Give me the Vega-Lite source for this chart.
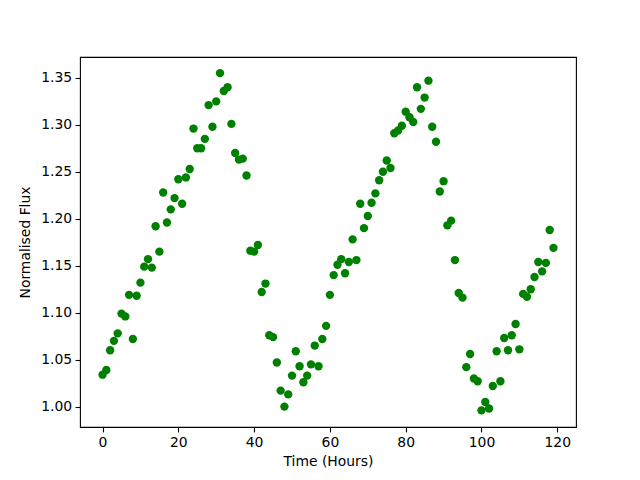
{
  "$schema": "https://vega.github.io/schema/vega-lite/v6.json",
  "autosize": "none",
  "width": 496,
  "height": 370,
  "padding": {"left": 80, "top": 57, "right": 64, "bottom": 53},
  "background": "white",
  "config": {
    "view": {"stroke": "black", "strokeWidth": 1.1},
    "font": "DejaVu Sans",
    "axis": {
      "grid": false,
      "domain": false,
      "tickColor": "black",
      "tickSize": 4.9,
      "tickWidth": 1.1,
      "labelColor": "black",
      "labelFont": "DejaVu Sans",
      "labelFontSize": 13.9,
      "labelPadding": 3.5,
      "titleColor": "black",
      "titleFont": "DejaVu Sans",
      "titleFontSize": 13.9,
      "titleFontWeight": "normal"
    }
  },
  "data": {
    "values": [
      {"t": 0, "flux": 1.034}, {"t": 1, "flux": 1.039}, {"t": 2, "flux": 1.060}, {"t": 3, "flux": 1.070},
      {"t": 4, "flux": 1.078}, {"t": 5, "flux": 1.099}, {"t": 6, "flux": 1.096}, {"t": 7, "flux": 1.119},
      {"t": 8, "flux": 1.072}, {"t": 9, "flux": 1.118}, {"t": 10, "flux": 1.132}, {"t": 11, "flux": 1.149},
      {"t": 12, "flux": 1.157}, {"t": 13, "flux": 1.148}, {"t": 14, "flux": 1.192}, {"t": 15, "flux": 1.165},
      {"t": 16, "flux": 1.228}, {"t": 17, "flux": 1.196}, {"t": 18, "flux": 1.210}, {"t": 19, "flux": 1.222},
      {"t": 20, "flux": 1.242}, {"t": 21, "flux": 1.216}, {"t": 22, "flux": 1.244}, {"t": 23, "flux": 1.253},
      {"t": 24, "flux": 1.296}, {"t": 25, "flux": 1.275}, {"t": 26, "flux": 1.275}, {"t": 27, "flux": 1.285},
      {"t": 28, "flux": 1.321}, {"t": 29, "flux": 1.298}, {"t": 30, "flux": 1.325}, {"t": 31, "flux": 1.355},
      {"t": 32, "flux": 1.336}, {"t": 33, "flux": 1.340}, {"t": 34, "flux": 1.301}, {"t": 35, "flux": 1.270},
      {"t": 36, "flux": 1.263}, {"t": 37, "flux": 1.264}, {"t": 38, "flux": 1.246}, {"t": 39, "flux": 1.166},
      {"t": 40, "flux": 1.165}, {"t": 41, "flux": 1.172}, {"t": 42, "flux": 1.122}, {"t": 43, "flux": 1.131},
      {"t": 44, "flux": 1.076}, {"t": 45, "flux": 1.074}, {"t": 46, "flux": 1.047}, {"t": 47, "flux": 1.017},
      {"t": 48, "flux": 1.000}, {"t": 49, "flux": 1.013}, {"t": 50, "flux": 1.033}, {"t": 51, "flux": 1.059},
      {"t": 52, "flux": 1.043}, {"t": 53, "flux": 1.026}, {"t": 54, "flux": 1.033}, {"t": 55, "flux": 1.045},
      {"t": 56, "flux": 1.065}, {"t": 57, "flux": 1.043}, {"t": 58, "flux": 1.072}, {"t": 59, "flux": 1.086},
      {"t": 60, "flux": 1.119}, {"t": 61, "flux": 1.140}, {"t": 62, "flux": 1.151}, {"t": 63, "flux": 1.157},
      {"t": 64, "flux": 1.142}, {"t": 65, "flux": 1.154}, {"t": 66, "flux": 1.178}, {"t": 67, "flux": 1.156},
      {"t": 68, "flux": 1.216}, {"t": 69, "flux": 1.190}, {"t": 70, "flux": 1.203}, {"t": 71, "flux": 1.217},
      {"t": 72, "flux": 1.227}, {"t": 73, "flux": 1.241}, {"t": 74, "flux": 1.250}, {"t": 75, "flux": 1.262},
      {"t": 76, "flux": 1.254}, {"t": 77, "flux": 1.291}, {"t": 78, "flux": 1.294}, {"t": 79, "flux": 1.299},
      {"t": 80, "flux": 1.314}, {"t": 81, "flux": 1.308}, {"t": 82, "flux": 1.303}, {"t": 83, "flux": 1.340},
      {"t": 84, "flux": 1.317}, {"t": 85, "flux": 1.329}, {"t": 86, "flux": 1.347}, {"t": 87, "flux": 1.298},
      {"t": 88, "flux": 1.282}, {"t": 89, "flux": 1.229}, {"t": 90, "flux": 1.240}, {"t": 91, "flux": 1.193},
      {"t": 92, "flux": 1.198}, {"t": 93, "flux": 1.156}, {"t": 94, "flux": 1.121}, {"t": 95, "flux": 1.116},
      {"t": 96, "flux": 1.042}, {"t": 97, "flux": 1.056}, {"t": 98, "flux": 1.030}, {"t": 99, "flux": 1.027},
      {"t": 100, "flux": 0.996}, {"t": 101, "flux": 1.005}, {"t": 102, "flux": 0.998}, {"t": 103, "flux": 1.022},
      {"t": 104, "flux": 1.059}, {"t": 105, "flux": 1.027}, {"t": 106, "flux": 1.073}, {"t": 107, "flux": 1.060},
      {"t": 108, "flux": 1.076}, {"t": 109, "flux": 1.088}, {"t": 110, "flux": 1.061}, {"t": 111, "flux": 1.120},
      {"t": 112, "flux": 1.117}, {"t": 113, "flux": 1.125}, {"t": 114, "flux": 1.138}, {"t": 115, "flux": 1.154},
      {"t": 116, "flux": 1.144}, {"t": 117, "flux": 1.153}, {"t": 118, "flux": 1.188}, {"t": 119, "flux": 1.169}
    ]
  },
  "mark": {"type": "circle", "color": "#008000", "opacity": 1, "size": 70},
  "encoding": {
    "x": {
      "field": "t",
      "type": "quantitative",
      "scale": {"domain": [-5.95, 124.95], "nice": false, "zero": false},
      "axis": {"title": "Time (Hours)", "values": [0, 20, 40, 60, 80, 100, 120], "titlePadding": 5}
    },
    "y": {
      "field": "flux",
      "type": "quantitative",
      "scale": {"domain": [0.9783, 1.3722], "nice": false, "zero": false},
      "axis": {"title": "Normalised Flux", "values": [1.0, 1.05, 1.1, 1.15, 1.2, 1.25, 1.3, 1.35], "format": ".2f", "titlePadding": 8}
    }
  }
}
